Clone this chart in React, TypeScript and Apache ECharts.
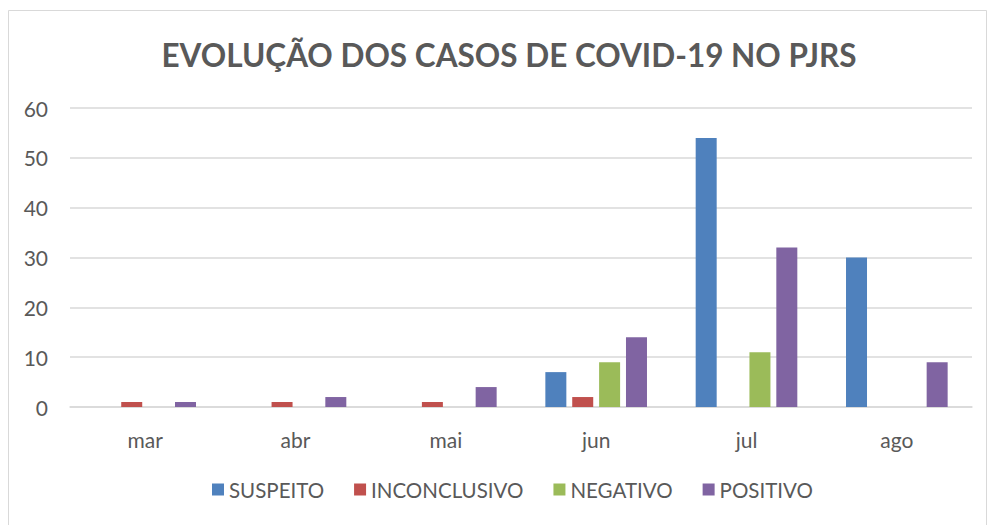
import React, { useEffect, useRef } from "react";
import * as echarts from "echarts";

const categories = ["mar", "abr", "mai", "jun", "jul", "ago"];
const suspeito = [0, 0, 0, 7, 54, 30];
const inconclusivo = [1, 1, 1, 2, 0, 0];
const negativo = [0, 0, 0, 9, 11, 0];
const positivo = [1, 2, 4, 14, 32, 9];

const FONT = "Lato, 'Open Sans', sans-serif";

export default function App() {
  const ref = useRef<HTMLDivElement>(null);
  useEffect(() => {
    if (!ref.current) return;
    const chart = echarts.init(ref.current, undefined, { renderer: "svg" });
    const mk = (name: string, data: number[], color: string) => ({
      name,
      type: "bar",
      data,
      barWidth: 21,
      barGap: "28%",
      itemStyle: { color },
    });
    chart.setOption({
      animation: false,
      backgroundColor: "#ffffff",
      textStyle: { fontFamily: FONT },
      title: {
        text: "EVOLUÇÃO DOS CASOS DE COVID-19 NO PJRS",
        left: 504,
        textAlign: "center",
        top: 34,
        textStyle: { fontFamily: FONT, fontSize: 31.5, fontWeight: "bold", color: "#595959" },
      },
      graphic: [
        {
          type: "rect",
          shape: { x: 8.5, y: 10.5, width: 978, height: 530 },
          style: { fill: "none", stroke: "#d9d9d9", lineWidth: 1 },
          silent: true,
        },
      ],
      grid: { left: 70, right: 17, top: 108, bottom: 118, containLabel: false },
      legend: {
        bottom: 20,
        left: 207,
        itemWidth: 12,
        itemHeight: 12,
        itemGap: 30,
        icon: "rect",
        textStyle: { fontFamily: FONT, fontSize: 20.5, color: "#595959" },
        data: ["SUSPEITO", "INCONCLUSIVO", "NEGATIVO", "POSITIVO"],
      },
      xAxis: {
        type: "category",
        data: categories,
        axisLine: { lineStyle: { color: "#d9d9d9", width: 1.5 } },
        axisTick: { show: false },
        axisLabel: { fontFamily: FONT, fontSize: 21, color: "#595959", margin: 22 },
      },
      yAxis: {
        type: "value",
        min: 0,
        max: 60,
        interval: 10,
        axisLine: { show: false },
        axisTick: { show: false },
        splitLine: { lineStyle: { color: "#d9d9d9", width: 1.5 } },
        axisLabel: { fontFamily: FONT, fontSize: 21, color: "#595959", margin: 22 },
      },
      series: [
        mk("SUSPEITO", suspeito, "#4F81BD"),
        mk("INCONCLUSIVO", inconclusivo, "#C0504D"),
        mk("NEGATIVO", negativo, "#9BBB59"),
        mk("POSITIVO", positivo, "#8064A2"),
      ],
    });
    return () => chart.dispose();
  }, []);
  return (
    <div
      ref={ref}
      style={{ position: "absolute", left: 0, top: 0, width: 989, height: 525 }}
    />
  );
}
